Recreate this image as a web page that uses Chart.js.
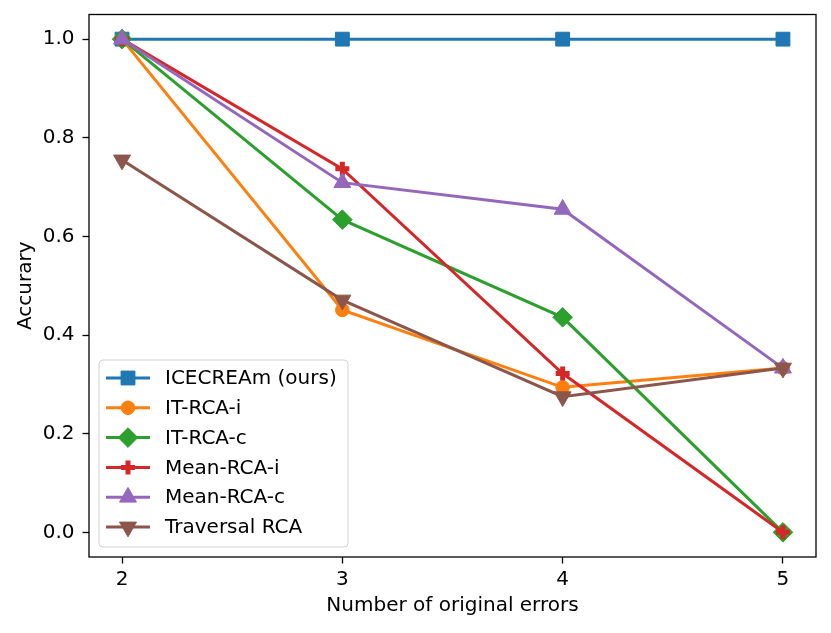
<!DOCTYPE html>
<html lang="en">
<head>
    <meta charset="UTF-8">
    <title>Accuracy vs number of original errors</title>
    <style>
        html, body { margin: 0; padding: 0; background: #ffffff; }
        #wrap { width: 831px; height: 633px; }
    </style>
</head>
<body>
<div id="wrap">
    <canvas id="grafico" width="831" height="633"></canvas>
</div>
<script src="https://cdn.jsdelivr.net/npm/chart.js"></script>
<script>
    // data
    const xValues = [2, 3, 4, 5];
    const xTicks = [2, 3, 4, 5];
    const yTicks = [0.0, 0.2, 0.4, 0.6, 0.8, 1.0];

    const seriesNames = ['ICECREAm (ours)', 'IT-RCA-i', 'IT-RCA-c', 'Mean-RCA-i', 'Mean-RCA-c', 'Traversal RCA'];
    const icecream  = [1.0, 1.0, 1.0, 1.0];
    const itRcaI    = [1.0, 0.451, 0.294, 0.333];
    const itRcaC    = [1.0, 0.634, 0.436, 0.0];
    const meanRcaI  = [1.0, 0.737, 0.322, 0.0];
    const meanRcaC  = [1.0, 0.709, 0.655, 0.333];
    const traversal = [0.755, 0.471, 0.275, 0.333];

    const colors = ['#1f77b4', '#ff7f0e', '#2ca02c', '#d62728', '#9467bd', '#8c564b'];
    const fontFamily = '"DejaVu Sans", Verdana, sans-serif';
    const fontSize = 20;

    function pontos(valores) {
        return valores.map(function (v, i) { return { x: xValues[i], y: v }; });
    }

    // marker looks, close to matplotlib s, o, D, P, ^, v
    const markers = [
        { pointStyle: 'rect',     radius: 9.8, rotation: 0,   borderWidth: 1 },
        { pointStyle: 'circle',   radius: 6.8, rotation: 0,   borderWidth: 1 },
        { pointStyle: 'rectRot',  radius: 9.8, rotation: 0,   borderWidth: 1 },
        { pointStyle: 'cross',    radius: 7,   rotation: 0,   borderWidth: 5 },
        { pointStyle: 'triangle', radius: 9.8, rotation: 0,   borderWidth: 1 },
        { pointStyle: 'triangle', radius: 9.8, rotation: 180, borderWidth: 1 }
    ];

    const allSeries = [icecream, itRcaI, itRcaC, meanRcaI, meanRcaC, traversal];

    const datasets = allSeries.map(function (serie, i) {
        return {
            label: seriesNames[i],
            data: pontos(serie),
            borderColor: colors[i],
            backgroundColor: colors[i],
            borderWidth: 3,
            tension: 0,
            pointStyle: markers[i].pointStyle,
            pointRadius: markers[i].radius,
            pointHoverRadius: markers[i].radius,
            pointRotation: markers[i].rotation,
            pointBorderWidth: markers[i].borderWidth,
            pointBorderColor: colors[i],
            pointBackgroundColor: colors[i],
            order: allSeries.length - i
        };
    });

    // frame around the plot area (matplotlib spines)
    const moldura = {
        id: 'moldura',
        afterDatasetsDraw(chart) {
            const a = chart.chartArea;
            const ctx = chart.ctx;
            ctx.save();
            ctx.strokeStyle = '#000000';
            ctx.lineWidth = 1.3;
            ctx.strokeRect(a.left, a.top, a.right - a.left, a.bottom - a.top);
            ctx.restore();
        }
    };

    // legend with line + marker handles, like matplotlib
    const legenda = {
        id: 'legenda',
        afterDraw(chart) {
            const ctx = chart.ctx;
            const a = chart.chartArea;
            const boxX = a.left + 10;
            const boxY = 360;
            const boxW = 249;
            const boxH = 187;
            const rowH = 29.8;
            ctx.save();
            ctx.beginPath();
            if (ctx.roundRect) {
                ctx.roundRect(boxX, boxY, boxW, boxH, 4);
            } else {
                ctx.rect(boxX, boxY, boxW, boxH);
            }
            ctx.fillStyle = 'rgba(255,255,255,0.8)';
            ctx.fill();
            ctx.strokeStyle = 'rgba(204,204,204,0.9)';
            ctx.lineWidth = 1;
            ctx.stroke();

            chart.data.datasets.forEach(function (ds, i) {
                const cy = boxY + 18 + i * rowH;
                ctx.strokeStyle = ds.borderColor;
                ctx.lineWidth = ds.borderWidth;
                ctx.beginPath();
                ctx.moveTo(boxX + 7, cy);
                ctx.lineTo(boxX + 51, cy);
                ctx.stroke();

                ctx.fillStyle = ds.pointBackgroundColor;
                ctx.strokeStyle = ds.pointBorderColor;
                ctx.lineWidth = ds.pointBorderWidth;
                Chart.helpers.drawPoint(ctx, {
                    pointStyle: ds.pointStyle,
                    radius: ds.pointRadius,
                    rotation: ds.pointRotation,
                    borderWidth: ds.pointBorderWidth
                }, boxX + 29, cy);

                ctx.fillStyle = '#000000';
                ctx.font = fontSize + 'px ' + fontFamily;
                ctx.textAlign = 'left';
                ctx.textBaseline = 'middle';
                ctx.fillText(ds.label, boxX + 66, cy + 1);
            });
            ctx.restore();
        }
    };

    function semPadding(scale) {
        scale.paddingTop = 0;
        scale.paddingBottom = 0;
        scale.paddingLeft = 0;
        scale.paddingRight = 0;
    }

    const ctx = document.getElementById('grafico').getContext('2d');
    new Chart(ctx, {
        type: 'line',
        data: { datasets: datasets },
        options: {
            responsive: false,
            animation: false,
            devicePixelRatio: 1,
            layout: { padding: { left: 0, top: 14.5, right: 15, bottom: 0 } },
            plugins: {
                legend: { display: false },
                tooltip: { enabled: false }
            },
            scales: {
                x: {
                    type: 'linear',
                    min: 1.85,
                    max: 5.15,
                    afterBuildTicks: function (scale) {
                        scale.ticks = xTicks.map(function (v) { return { value: v }; });
                    },
                    afterFit: function (scale) { scale.height = 76; semPadding(scale); },
                    border: { display: false },
                    grid: {
                        drawOnChartArea: false,
                        drawTicks: true,
                        tickLength: 6.5,
                        tickWidth: 1.3,
                        color: '#000000'
                    },
                    ticks: {
                        padding: 4,
                        color: '#000000',
                        maxRotation: 0,
                        font: { family: fontFamily, size: fontSize },
                        callback: function (v) { return String(v); }
                    },
                    title: {
                        display: true,
                        text: 'Number of original errors',
                        color: '#000000',
                        font: { family: fontFamily, size: fontSize },
                        padding: { top: 0, bottom: 15 }
                    }
                },
                y: {
                    type: 'linear',
                    min: -0.05,
                    max: 1.05,
                    afterBuildTicks: function (scale) {
                        scale.ticks = yTicks.map(function (v) { return { value: v }; });
                    },
                    afterFit: function (scale) { scale.width = 89; semPadding(scale); },
                    border: { display: false },
                    grid: {
                        drawOnChartArea: false,
                        drawTicks: true,
                        tickLength: 6.5,
                        tickWidth: 1.3,
                        color: '#000000'
                    },
                    ticks: {
                        padding: 8,
                        color: '#000000',
                        font: { family: fontFamily, size: fontSize },
                        callback: function (v) { return Number(v).toFixed(1); }
                    },
                    title: {
                        display: true,
                        text: 'Accurary',
                        color: '#000000',
                        font: { family: fontFamily, size: fontSize },
                        padding: { top: 13.5, bottom: 0 }
                    }
                }
            }
        },
        plugins: [moldura, legenda]
    });
</script>
</body>
</html>
